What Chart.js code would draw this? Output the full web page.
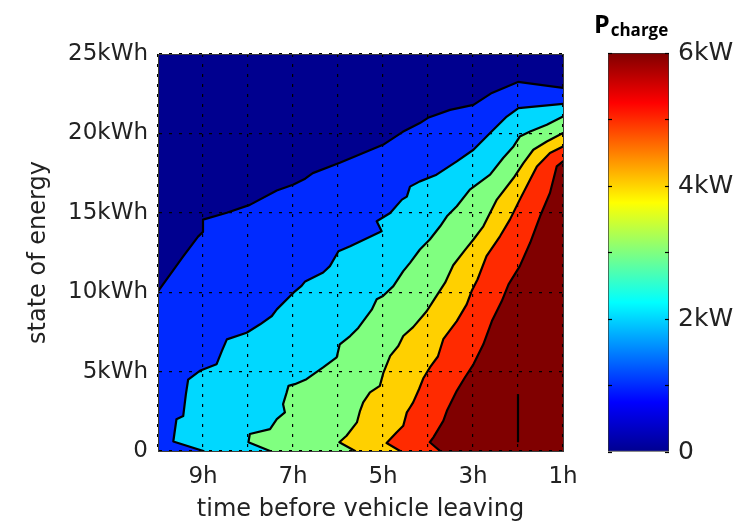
<!DOCTYPE html>
<html>
<head>
<meta charset="utf-8">
<title>State of energy vs time before leaving</title>
<script src="https://cdn.jsdelivr.net/npm/chart.js@4.4.1/dist/chart.umd.min.js"></script>
<style>
  html, body { margin: 0; padding: 0; background: #fff; }
  #wrap { position: relative; width: 753px; height: 524px; }
  #main { position: absolute; left: 0; top: 0; }
  #bar { position: absolute; left: 590px; top: 0; }
  #ptitle { position: absolute; left: 594px; top: 11px; font: 700 25px/1 'Open Sans', sans-serif; color: #000; white-space: nowrap; }
  #ptitle span { font-size: 17px; position: relative; top: 3px; margin-left: 1px; }
</style>
</head>
<body>
<div id="wrap">
  <canvas id="main" width="590" height="524"></canvas>
  <canvas id="bar" width="163" height="524"></canvas>
  <div id="ptitle">P<span>charge</span></div>
</div>
<script>
// Contour plot of charging power over (time before leaving, state of energy)

// axis ticks
const hourTicks = [9, 7, 5, 3, 1];
const energyTicks = [0, 5, 10, 15, 20, 25];
const powerTicks = [0, 2, 4, 6];
const HOUR_MIN = 1, HOUR_MAX = 10;
const ENERGY_MIN = 0, ENERGY_MAX = 25;
const POWER_MAX = 6;

// contour boundaries (hours before leaving, kWh)
// 0 kW / 1 kW
const b1Hours  = [10, 9.44, 9.11, 9.0, 9.0, 8.47, 7.96, 7.36, 7.0, 6.73, 6.56, 5.96, 5.0, 4.56, 4.18, 4.0, 3.51, 2.99, 2.58, 2.0, 1.0];
const b1Energy = [10.05, 12.25, 13.5, 13.8, 14.57, 15.0, 15.5, 16.4, 16.77, 17.15, 17.5, 18.15, 19.28, 20.1, 20.65, 20.98, 21.48, 21.8, 22.55, 23.24, 22.86];
// 1 kW / 2 kW
const b2Hours  = [8.99, 9.66, 9.59, 9.44, 9.38, 9.33, 9.07, 8.70, 8.58, 8.47, 8.03, 7.73, 7.47, 7.36, 6.99, 6.81, 6.73, 6.33, 6.18, 5.99, 5.73, 5.03, 5.14, 4.84, 4.58, 4.47, 4.40, 4.18, 3.81, 3.36, 2.99, 2.62, 2.25, 1.99, 1.0];
const b2Energy = [0, 0.6, 2.0, 2.2, 3.58, 4.5, 5.05, 5.46, 6.3, 7.03, 7.45, 7.98, 8.5, 8.92, 9.97, 10.4, 10.68, 11.24, 11.64, 12.58, 12.9, 13.84, 14.47, 14.99, 15.83, 16.02, 16.65, 16.98, 17.4, 18.24, 18.97, 20.02, 21.06, 21.59, 21.86];
// 2 kW / 3 kW
const b3Hours  = [7.51, 7.99, 7.96, 7.51, 7.36, 7.18, 7.22, 7.14, 7.10, 6.96, 6.70, 6.33, 6.03, 5.96, 5.73, 5.55, 5.25, 5.14, 5.0, 4.77, 4.55, 4.40, 4.18, 3.96, 3.73, 3.58, 3.36, 3.07, 2.62, 2.33, 2.10, 1.96, 1.73, 1.36, 1.0];
const b3Energy = [0, 0.55, 1.07, 1.38, 2.01, 2.43, 2.95, 3.69, 4.10, 4.21, 4.52, 5.26, 5.89, 6.72, 7.24, 7.75, 8.9, 9.55, 9.76, 10.38, 11.33, 11.85, 12.69, 13.32, 14.15, 14.78, 15.41, 16.46, 17.4, 18.45, 19.18, 19.8, 20.12, 20.54, 21.06];
// 3 kW / 4 kW
const b4Hours  = [5.62, 5.97, 5.81, 5.58, 5.51, 5.44, 5.29, 5.07, 4.99, 4.84, 4.66, 4.55, 4.33, 4.03, 3.85, 3.62, 3.44, 3.18, 2.99, 2.77, 2.47, 2.10, 1.88, 1.66, 1.36, 1.0];
const b4Energy = [0, 0.55, 0.96, 1.8, 2.53, 3.06, 3.69, 4.1, 4.94, 5.99, 6.61, 7.24, 7.8, 8.8, 9.6, 10.6, 11.7, 12.65, 13.32, 14.15, 15.83, 17.19, 18.13, 18.97, 19.49, 20.02];
// 4 kW / 5 kW
const b5Hours  = [4.62, 4.92, 4.70, 4.55, 4.47, 4.40, 4.33, 4.20, 4.10, 3.95, 3.78, 3.66, 3.36, 3.14, 3.03, 2.90, 2.70, 2.40, 2.18, 1.96, 1.73, 1.58, 1.29, 1.0];
const b5Energy = [0, 0.5, 1.17, 1.59, 2.43, 2.74, 3.06, 3.89, 4.6, 5.3, 5.95, 7.04, 8.18, 9.23, 10.07, 10.8, 12.27, 13.52, 14.57, 15.83, 17.09, 17.92, 18.76, 19.18];
// 5 kW / 6 kW
const b6Hours  = [3.73, 3.96, 3.88, 3.66, 3.58, 3.36, 3.18, 2.99, 2.77, 2.58, 2.36, 2.21, 1.96, 1.73, 1.51, 1.29, 1.14, 1.0];
const b6Energy = [0, 0.55, 0.86, 1.9, 2.53, 3.79, 4.63, 5.46, 6.72, 8.18, 9.44, 10.49, 11.64, 13.11, 14.78, 16.25, 17.92, 18.24];
// small stray contour segment inside the 6 kW area
const stubHours  = [2.0, 2.0];
const stubEnergy = [0.55, 3.58];

// one colour per power level 0..6 kW (jet)
const levelColors = ['#00008F', '#002AFF', '#00D8FF', '#80FF80', '#FFD000', '#FF2A00', '#800000'];

const TEXT = '#222222';
const FRAME = '#3c3c3c';
const tickFont = {family: 'DejaVu Sans', size: 23};
const titleFont = {family: 'DejaVu Sans', size: 24};

function toPoints(hours, energy) {
  return hours.map((h, i) => ({x: h, y: energy[i]}));
}

// region above a level: boundary, then down the right edge, back along the bottom
function regionPoints(hours, energy) {
  const pts = toPoints(hours, energy);
  pts.push({x: HOUR_MIN, y: ENERGY_MIN});
  if (energy[0] > ENERGY_MIN) pts.push({x: hours[0], y: ENERGY_MIN});
  return pts;
}

const boundaries = [
  [b1Hours, b1Energy],
  [b2Hours, b2Energy],
  [b3Hours, b3Energy],
  [b4Hours, b4Energy],
  [b5Hours, b5Energy],
  [b6Hours, b6Energy]
];

const datasets = [];
boundaries.forEach(([h, e], i) => {
  // filled level, lower levels drawn first
  datasets.push({
    data: regionPoints(h, e),
    backgroundColor: levelColors[i + 1],
    borderWidth: 0,
    pointRadius: 0,
    fill: 'shape',
    order: 50 - i
  });
  // black contour line on top of all fills
  datasets.push({
    data: toPoints(h, e),
    borderColor: '#000',
    borderWidth: 2.2,
    borderJoinStyle: 'round',
    borderCapStyle: 'round',
    pointRadius: 0,
    fill: false,
    order: 10 - i
  });
});
datasets.push({
  data: toPoints(stubHours, stubEnergy),
  borderColor: '#000',
  borderWidth: 2.2,
  pointRadius: 0,
  fill: false,
  order: 1
});

// background of the plot area = lowest level
const areaBackground = {
  id: 'areaBackground',
  beforeDatasetsDraw(chart, args, opts) {
    const {ctx, chartArea: a} = chart;
    ctx.save();
    ctx.fillStyle = opts.color;
    ctx.fillRect(a.left, a.top, a.width, a.height);
    ctx.restore();
  }
};

const gridOpts = {color: '#000', lineWidth: 1.2, z: 1, drawTicks: false};
const borderOpts = {display: true, color: FRAME, width: 1, dash: [3, 7], z: 2};

new Chart(document.getElementById('main'), {
  type: 'line',
  data: {datasets: datasets},
  options: {
    responsive: false,
    animation: false,
    events: [],
    devicePixelRatio: 1,
    layout: {padding: {left: 0, top: 54, right: 27, bottom: 0}},
    plugins: {
      legend: {display: false},
      tooltip: {enabled: false},
      areaBackground: {color: levelColors[0]}
    },
    scales: {
      x: {
        type: 'linear',
        reverse: true,
        min: HOUR_MIN,
        max: HOUR_MAX,
        ticks: {
          stepSize: 1,
          autoSkip: false,
          maxRotation: 0,
          padding: 12,
          color: TEXT,
          font: tickFont,
          callback: v => hourTicks.includes(v) ? v + 'h' : ''
        },
        grid: gridOpts,
        border: borderOpts,
        title: {display: true, text: 'time before vehicle leaving', color: TEXT, font: titleFont, padding: {top: 0, bottom: 0}},
        afterFit: s => { s.height = 73; }
      },
      y: {
        type: 'linear',
        min: ENERGY_MIN,
        max: ENERGY_MAX,
        ticks: {
          stepSize: 5,
          padding: 10,
          color: TEXT,
          font: tickFont,
          callback: v => energyTicks.includes(v) ? (v === 0 ? '0' : v + 'kWh') : ''
        },
        grid: gridOpts,
        border: borderOpts,
        title: {display: true, text: 'state of energy', color: TEXT, font: titleFont, padding: {top: 24, bottom: 0}},
        afterFit: s => { s.width = 158; }
      },
      // frame on top and right
      x2: {
        type: 'linear', position: 'top', reverse: true, min: HOUR_MIN, max: HOUR_MAX,
        ticks: {display: false}, grid: {display: false},
        border: {display: true, color: FRAME, width: 1, z: 2},
        afterFit: s => { s.height = 0; }
      },
      y2: {
        type: 'linear', position: 'right', min: ENERGY_MIN, max: ENERGY_MAX,
        ticks: {display: false}, grid: {display: false},
        border: {display: true, color: FRAME, width: 1, z: 2},
        afterFit: s => { s.width = 0; }
      }
    }
  },
  plugins: [areaBackground]
});

// colour bar
const jetStops = [[0, '#00008F'], [0.125, '#0000FF'], [0.375, '#00FFFF'], [0.625, '#FFFF00'], [0.875, '#FF0000'], [1, '#800000']];

function jetGradient(context) {
  const chart = context.chart;
  const a = chart.chartArea;
  if (!a) return null;
  const g = chart.ctx.createLinearGradient(0, a.bottom, 0, a.top);
  jetStops.forEach(([p, c]) => g.addColorStop(p, c));
  return g;
}

// small inward tick marks on both sides of the colour bar
const barTickGrid = {display: true, drawOnChartArea: false, drawTicks: true, tickLength: -4, tickColor: '#000', tickWidth: 1.2, z: 1};

new Chart(document.getElementById('bar'), {
  type: 'bar',
  data: {
    labels: ['Pcharge'],
    datasets: [{
      data: [POWER_MAX],
      backgroundColor: jetGradient,
      borderColor: '#333',
      borderWidth: 1,
      borderSkipped: false,
      barPercentage: 1,
      categoryPercentage: 1
    }]
  },
  options: {
    responsive: false,
    animation: false,
    events: [],
    devicePixelRatio: 1,
    layout: {padding: {left: 18, top: 53, right: 0, bottom: 72}},
    plugins: {legend: {display: false}, tooltip: {enabled: false}},
    scales: {
      x: {display: false},
      y: {
        position: 'right',
        min: 0,
        max: POWER_MAX,
        ticks: {
          stepSize: 1,
          padding: 13,
          color: TEXT,
          font: {family: 'DejaVu Sans', size: 25},
          callback: v => powerTicks.includes(v) ? (v === 0 ? '0' : v + 'kW') : ''
        },
        grid: barTickGrid,
        border: {display: false},
        afterFit: s => { s.width = 84; }
      },
      y2: {
        position: 'left',
        min: 0,
        max: POWER_MAX,
        ticks: {stepSize: 1, display: false},
        grid: barTickGrid,
        border: {display: false},
        afterFit: s => { s.width = 0; }
      }
    }
  }
});
</script>
</body>
</html>
